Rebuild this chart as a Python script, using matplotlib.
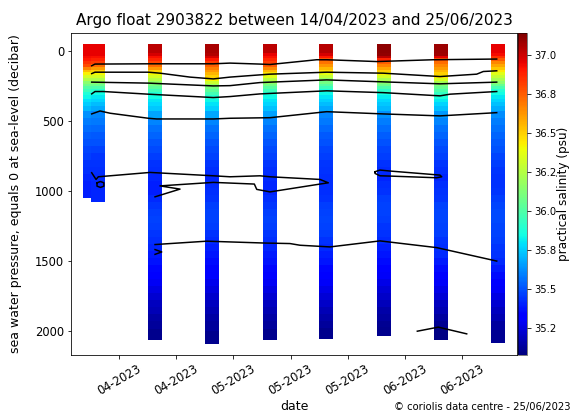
import numpy as np
import pandas as pd
import matplotlib
matplotlib.use("Agg")
import matplotlib.pyplot as plt
import matplotlib.dates as mdates
from matplotlib.colors import Normalize

# profile dates (cycle times of the float)
profile_dates = ['2023-04-14 22:20', '2023-04-16 08:00', '2023-04-26 07:10',
                 '2023-05-06 08:25', '2023-05-16 08:40', '2023-05-26 06:15',
                 '2023-06-05 07:10', '2023-06-15 06:30', '2023-06-25 05:45']
# deepest pressure reached by each profile (decibar)
last_dbar = [1000, 1027, 2014, 2036, 2014, 2007, 1980, 2014, 2029]

# sampling levels, the last sample of each profile sits at last_dbar
levels_dbar = [0, 20, 40, 60, 80, 100, 120, 140, 160, 180, 200, 220, 240, 260, 280, 300,
               325, 350, 375, 400, 450, 500, 550, 600, 650, 700, 750, 800, 850, 900, 950,
               1000, 1050, 1100, 1150, 1200, 1250, 1300, 1350, 1400, 1450, 1500, 1550,
               1600, 1650, 1700, 1750, 1800, 1850, 1900, 1950, 2000]

psal = [
    [36.95, 36.95, 36.93, 36.90, 36.85, 36.79, 36.67, 36.54, 36.43, 36.33, 36.24, 36.15, 36.08,
     36.01, 35.95, 35.88, 35.84, 35.79, 35.75, 35.71,
     35.63, 35.59, 35.56, 35.53, 35.50, 35.48, 35.46, 35.44, 35.43, 35.41, 35.40, 35.40],
    [36.95, 36.95, 36.92, 36.88, 36.82, 36.72, 36.61, 36.50, 36.41, 36.32, 36.24, 36.15, 36.07,
     35.99, 35.91, 35.85, 35.81, 35.77, 35.72, 35.68,
     35.61, 35.58, 35.55, 35.52, 35.50, 35.47, 35.45, 35.44, 35.43, 35.42, 35.41, 35.41],
    [37.03, 36.98, 36.92, 36.87, 36.81, 36.72, 36.62, 36.50, 36.41, 36.33, 36.25, 36.17, 36.10,
     36.03, 35.96, 35.89, 35.85, 35.81, 35.78, 35.74,
     35.67, 35.61, 35.57, 35.54, 35.51, 35.49, 35.46, 35.44, 35.43, 35.41, 35.40, 35.40,
     35.42, 35.45, 35.46, 35.47, 35.46, 35.45, 35.43, 35.41, 35.39, 35.37, 35.35, 35.32,
     35.29, 35.26, 35.23, 35.20, 35.18, 35.15, 35.13, 35.11],
    [37.06, 37.05, 36.98, 36.90, 36.82, 36.74, 36.68, 36.62, 36.56, 36.50, 36.42, 36.30, 36.19,
     36.10, 36.03, 35.97, 35.90, 35.84, 35.80, 35.76,
     35.68, 35.61, 35.57, 35.54, 35.51, 35.49, 35.47, 35.45, 35.43, 35.41, 35.42, 35.43,
     35.44, 35.46, 35.47, 35.47, 35.46, 35.44, 35.42, 35.40, 35.38, 35.36, 35.34, 35.31,
     35.28, 35.25, 35.22, 35.20, 35.17, 35.15, 35.13, 35.11],
    [37.03, 36.95, 36.92, 36.87, 36.82, 36.76, 36.66, 36.56, 36.46, 36.36, 36.26, 36.16, 36.09,
     36.02, 35.95, 35.88, 35.84, 35.80, 35.77, 35.73,
     35.66, 35.61, 35.57, 35.54, 35.51, 35.49, 35.47, 35.45, 35.43, 35.42, 35.41, 35.41,
     35.43, 35.45, 35.46, 35.47, 35.46, 35.45, 35.43, 35.41, 35.39, 35.37, 35.35, 35.32,
     35.29, 35.26, 35.23, 35.20, 35.17, 35.15, 35.13, 35.11],
    [37.04, 36.98, 36.90, 36.78, 36.70, 36.63, 36.55, 36.48, 36.38, 36.28, 36.17, 36.09, 36.02,
     35.95, 35.87, 35.84, 35.80, 35.76, 35.72, 35.68,
     35.61, 35.58, 35.55, 35.52, 35.50, 35.48, 35.46, 35.45, 35.44, 35.43, 35.43, 35.43,
     35.44, 35.46, 35.47, 35.48, 35.47, 35.46, 35.44, 35.42, 35.40, 35.38, 35.35, 35.33,
     35.30, 35.27, 35.24, 35.21, 35.18, 35.16, 35.13, 35.11],
    [37.11, 37.10, 37.03, 36.88, 36.75, 36.67, 36.59, 36.51, 36.43, 36.33, 36.23, 36.14, 36.07,
     35.99, 35.92, 35.86, 35.82, 35.78, 35.74, 35.71,
     35.63, 35.59, 35.56, 35.53, 35.50, 35.48, 35.46, 35.44, 35.42, 35.41, 35.43, 35.44,
     35.46, 35.47, 35.47, 35.46, 35.45, 35.44, 35.42, 35.40, 35.38, 35.36, 35.33, 35.30,
     35.27, 35.24, 35.21, 35.19, 35.16, 35.14, 35.12, 35.11],
    [37.09, 37.08, 36.96, 36.78, 36.72, 36.66, 36.61, 36.56, 36.50, 36.44, 36.33, 36.21, 36.12,
     36.06, 35.99, 35.93, 35.87, 35.82, 35.77, 35.73,
     35.65, 35.61, 35.57, 35.54, 35.51, 35.49, 35.47, 35.45, 35.43, 35.41, 35.43, 35.44,
     35.45, 35.47, 35.48, 35.48, 35.47, 35.46, 35.44, 35.43, 35.42, 35.39, 35.36, 35.33,
     35.30, 35.27, 35.24, 35.20, 35.17, 35.14, 35.12, 35.09],
    [36.95, 36.93, 36.85, 36.76, 36.66, 36.59, 36.52, 36.44, 36.36, 36.29, 36.22, 36.15, 36.06,
     35.98, 35.89, 35.85, 35.81, 35.77, 35.73, 35.69,
     35.62, 35.59, 35.57, 35.54, 35.52, 35.50, 35.48, 35.46, 35.45, 35.44, 35.44, 35.45,
     35.46, 35.48, 35.49, 35.49, 35.48, 35.47, 35.46, 35.45, 35.44, 35.42, 35.39, 35.36,
     35.33, 35.30, 35.26, 35.23, 35.20, 35.17, 35.14, 35.12],
]

# isohalines: days since 2023-04-14 00:00 and pressure (decibar)
iso_day = [
    [1.22, 1.80, 11.12, 22.49, 25.42, 30.66, 32.41, 40.58, 42.33, 51.08, 60.98, 72.07],
    [1.22, 1.80, 11.12, 13.17, 18.42, 22.49, 25.42, 30.66, 32.41, 42.33, 52.23, 62.15,
     68.57, 69.72, 72.07],
    [1.22, 11.12, 22.49, 25.42, 30.66, 42.33, 52.23, 62.15, 72.07],
    [1.22, 1.80, 3.25, 11.12, 22.49, 25.42, 30.66, 42.33, 52.23, 62.15, 63.90, 72.07],
    [1.22, 2.68, 4.43, 11.12, 12.59, 22.49, 25.42, 32.41, 42.33, 52.23, 62.15, 72.07],
    [1.22, 1.98, 2.38, 11.42, 22.49, 25.42, 30.66, 32.41, 41.16, 42.61, 41.16, 32.41,
     30.09, 29.67, 22.49, 13.17, 16.67, 12.30],
    [2.15, 2.75, 3.35, 3.35, 2.75, 2.15, 2.15],
    [50.78, 51.65, 53.40, 62.15, 62.45, 61.57, 53.40, 51.65, 50.78, 50.78],
    [12.30, 21.34, 31.24, 35.91, 37.66, 42.91, 51.65, 61.57, 72.07],
    [12.30, 13.47, 12.30],
    [58.18, 61.85, 66.82],
]
iso_dbar = [
    [102, 90, 88, 88, 83, 90, 93, 59, 59, 72, 59, 54],
    [158, 148, 148, 155, 183, 196, 183, 167, 162, 148, 155, 179, 162, 143, 138],
    [219, 226, 246, 244, 222, 203, 217, 231, 219],
    [303, 286, 286, 305, 329, 322, 303, 281, 294, 317, 305, 286],
    [446, 425, 441, 477, 482, 482, 477, 473, 430, 446, 460, 437],
    [866, 914, 895, 864, 888, 895, 888, 895, 914, 938, 947, 1003, 985, 947, 935, 960,
     983, 1038],
    [938, 929, 938, 962, 971, 962, 938],
    [859, 847, 854, 883, 895, 902, 890, 888, 871, 859],
    [1379, 1355, 1368, 1372, 1384, 1396, 1353, 1401, 1497],
    [1415, 1432, 1449],
    [1998, 1969, 2017],
]

tick_dates = ['2023-04-20', '2023-04-30', '2023-05-10', '2023-05-20',
              '2023-05-30', '2023-06-09', '2023-06-19']

t0 = mdates.date2num(pd.Timestamp('2023-04-14'))
norm = Normalize(vmin=35.08, vmax=37.14)
col_w = 2.45      # width of a profile column, days
half_cell = 50    # extent of the end cells, decibar

fig = plt.figure(figsize=(573 / 72, 417 / 72), dpi=72)
ax = fig.add_axes([71 / 573, 62 / 417, 446 / 573, 322 / 417])
cax = fig.add_axes([518 / 573, 62 / 417, 9 / 573, 322 / 417])

# one coloured column per profile, each sample fills the cell around its level
for d, sal, pmax in zip(profile_dates, psal, last_dbar):
    pres = np.array(levels_dbar[:len(sal) - 1] + [pmax], dtype=float)
    mids = (pres[:-1] + pres[1:]) / 2
    y_edges = np.concatenate([[pres[0] - half_cell], mids, [pres[-1] + half_cell]])
    xc = mdates.date2num(pd.Timestamp(d))
    x_edges = np.array([xc - col_w / 2, xc + col_w / 2])
    mesh = ax.pcolormesh(x_edges, y_edges, np.array(sal)[:, None], cmap='jet',
                         norm=norm, shading='flat')

for dd, pp in zip(iso_day, iso_dbar):
    ax.plot(t0 + np.array(dd), pp, color='k', lw=1.5)

ax.set_xlim(mdates.date2num(pd.Timestamp('2023-04-11 14:24')),
            mdates.date2num(pd.Timestamp('2023-06-28 14:50')))
ax.set_ylim(2168, -132)
ax.set_yticks([0, 500, 1000, 1500, 2000])
ax.set_xticks([mdates.date2num(pd.Timestamp(t)) for t in tick_dates])
ax.xaxis.set_major_formatter(mdates.DateFormatter('%m-%Y'))
for lab in ax.get_xticklabels():
    lab.set_rotation(30)
    lab.set_ha('center')
ax.tick_params(labelsize=11.5)
ax.set_xlabel('date', fontsize=12.5, labelpad=3)
ax.set_ylabel('sea water pressure, equals 0 at sea-level (decibar)', fontsize=12.5)
ax.yaxis.set_label_coords(-49 / 446, 0.5)

cb = fig.colorbar(mesh, cax=cax, ticks=[35.25, 35.5, 35.75, 36.0, 36.25, 36.5, 36.75, 37.0],
                  format='%.1f')
cb.outline.set_linewidth(0.5)
cb.ax.tick_params(labelsize=10)
cb.set_label('practical salinity (psu)', fontsize=12)
cb.ax.yaxis.set_label_coords(39 / 9, 0.5)

fig.text(294 / 573, 1 - 21 / 417, 'Argo float 2903822 between 14/04/2023 and 25/06/2023',
         ha='center', va='center', fontsize=15.3)
fig.text(571 / 573, 1 - 407 / 417, '\u00a9 coriolis data centre - 25/06/2023',
         ha='right', va='center', fontsize=10)

fig.savefig('out.png', dpi=72)
